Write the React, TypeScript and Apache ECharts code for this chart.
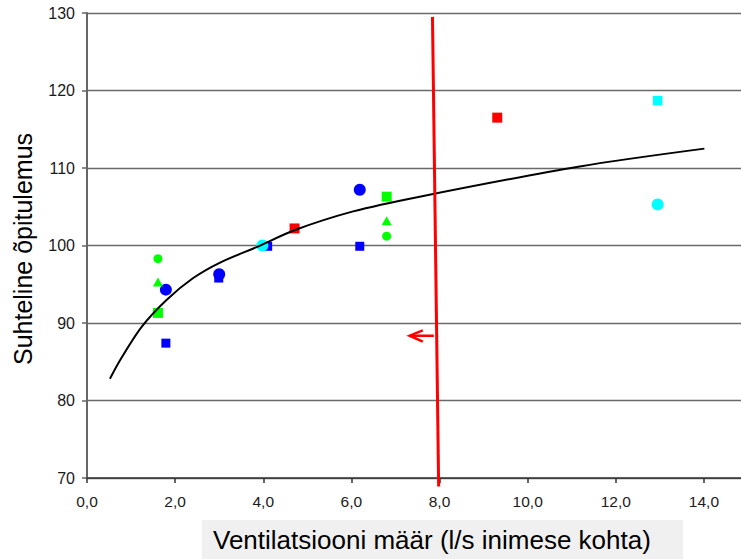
import React, { useEffect, useRef } from "react";
import * as echarts from "echarts";

// x ticks / y ticks
const xMin = 0, xMax = 15, xStep = 2;
const yMin = 70, yMax = 130, yStep = 10;

// data: [ventilation l/s, relative performance]
const blueSquares = [[1.79, 87.4], [2.99, 95.8], [4.1, 99.9], [6.19, 99.9]];
const blueCircles = [[1.79, 94.3], [3.0, 96.3], [6.19, 107.2]];
const greenSquares = [[1.61, 91.3], [6.8, 106.3]];
const greenTriangles = [[1.61, 95.3], [6.8, 103.2]];
const greenCircles = [[1.61, 98.3], [6.8, 101.2]];
const redSquares = [[4.71, 102.2], [9.31, 116.5]];
const cyanSquares = [[12.95, 118.7]];
const cyanCircles = [[3.98, 100.0], [12.95, 105.3]];

// trend curve
const trendCurve = [
  [0.52, 82.8], [0.75, 85.2], [1.24, 89.5], [1.81, 93.0], [2.41, 95.8],
  [3.02, 97.8], [3.85, 99.8], [4.72, 102.0], [6.04, 104.4], [7.55, 106.3],
  [11.18, 110.2], [14.01, 112.5],
];

// hand-drawn red threshold line and arrow
const redLine = [[7.84, 129.5], [7.98, 68.9]];
const arrowShaft = [[7.87, 88.36], [7.33, 88.36]];
const arrowHead = [[7.62, 89.05], [7.32, 88.36], [7.62, 87.6]];

const xTitle = "Ventilatsiooni määr (l/s inimese kohta)";
const yTitle = "Suhteline õpitulemus";

const FONT = '"Liberation Sans", Arial, sans-serif';

export default function App() {
  const ref = useRef<HTMLDivElement>(null);

  useEffect(() => {
    if (!ref.current) return;
    const chart = echarts.init(ref.current, null, { renderer: "svg" });

    const scatter = (data: number[][], color: string, symbol: string, size: number | number[]) => ({
      type: "scatter",
      data,
      symbol,
      symbolSize: size,
      itemStyle: { color, opacity: 1 },
      z: 3,
      silent: true,
    });

    chart.setOption({
      animation: false,
      backgroundColor: "#ffffff",
      grid: { left: 87, right: -7, top: 13, bottom: 81, outerBoundsMode: "none", containLabel: false },
      xAxis: {
        type: "value",
        min: xMin,
        max: xMax,
        interval: xStep,
        axisLine: { show: true, onZero: false, lineStyle: { color: "#333333", width: 1.5 } },
        axisTick: { show: true, length: 5, lineStyle: { color: "#333333", width: 1.5 } },
        axisLabel: {
          show: true,
          margin: 15,
          showMaxLabel: false,
          color: "#1a1a1a",
          fontSize: 15.5,
          fontFamily: FONT,
          formatter: (v: number) => v.toFixed(1).replace(".", ","),
        },
        splitLine: { show: false },
      },
      yAxis: {
        type: "value",
        min: yMin,
        max: yMax,
        interval: yStep,
        axisLine: { show: true, lineStyle: { color: "#666666", width: 2 } },
        axisTick: { show: true, length: 5, lineStyle: { color: "#666666", width: 1.5 } },
        axisLabel: { margin: 12, color: "#1a1a1a", fontSize: 16, fontFamily: FONT },
        splitLine: { show: true, lineStyle: { color: "#6a6a6a", width: 1.3 } },
      },
      graphic: [
        {
          type: "rect",
          shape: { x: 202, y: 520, width: 481, height: 45 },
          style: { fill: "#f0f0f0" },
          z: 0,
        },
        {
          type: "text",
          x: 213,
          y: 540,
          style: {
            text: xTitle,
            fill: "#000000",
            fontSize: 26,
            fontFamily: FONT,
            align: "left",
            verticalAlign: "middle",
            textAlign: "left",
            textVerticalAlign: "middle",
          },
          z: 1,
        },
        {
          type: "text",
          x: 23,
          y: 249,
          rotation: Math.PI / 2,
          style: {
            text: yTitle,
            fill: "#000000",
            fontSize: 25,
            fontFamily: FONT,
            align: "center",
            verticalAlign: "middle",
            textAlign: "center",
            textVerticalAlign: "middle",
          },
          z: 1,
        },
      ],
      series: [
        scatter(blueSquares, "#0000ff", "rect", 9),
        scatter(blueCircles, "#0000ff", "circle", 12),
        scatter(greenSquares, "#00ff00", "rect", 10),
        scatter(greenTriangles, "#00ff00", "triangle", [10, 9]),
        scatter(greenCircles, "#00ff00", "circle", 9),
        scatter(redSquares, "#ff0000", "rect", 10),
        scatter(cyanSquares, "#00ffff", "rect", 9.5),
        scatter(cyanCircles, "#00ffff", "circle", 12),
        {
          type: "line",
          data: trendCurve,
          smooth: 0.3,
          symbol: "none",
          lineStyle: { color: "#000000", width: 2 },
          z: 4,
          silent: true,
        },
        {
          type: "line",
          data: redLine,
          symbol: "none",
          clip: false,
          lineStyle: { color: "#ff0000", width: 3 },
          z: 5,
          silent: true,
        },
        {
          type: "line",
          data: arrowShaft,
          symbol: "none",
          lineStyle: { color: "#ff0000", width: 2.5 },
          z: 5,
          silent: true,
        },
        {
          type: "line",
          data: arrowHead,
          symbol: "none",
          lineStyle: { color: "#ff0000", width: 2.5, join: "miter" },
          z: 5,
          silent: true,
        },
      ],
    });

    return () => chart.dispose();
  }, []);

  return (
    <div
      ref={ref}
      style={{ position: "fixed", left: 0, top: 0, width: 741, height: 559, background: "#ffffff" }}
    />
  );
}
